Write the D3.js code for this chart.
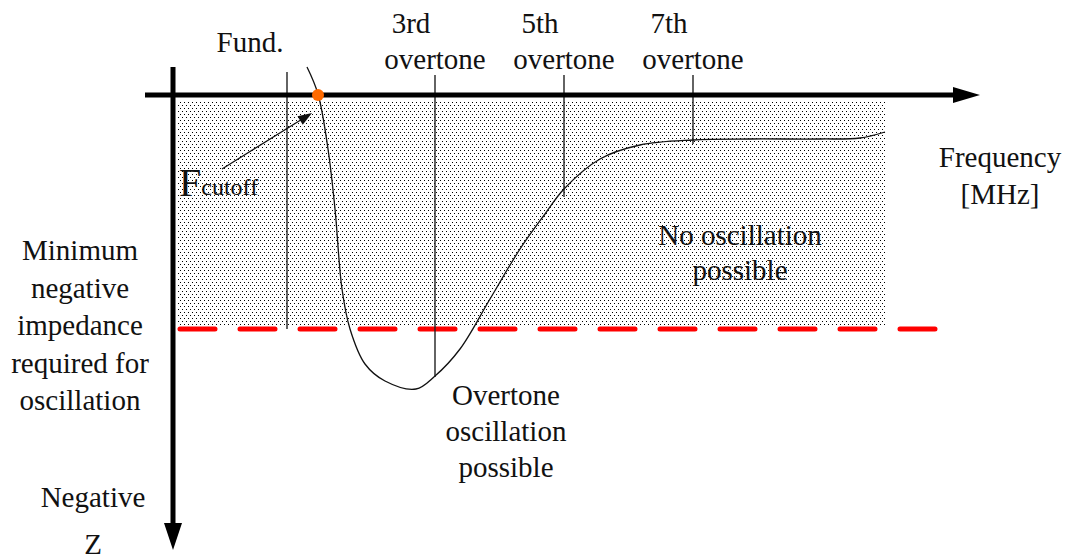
<!DOCTYPE html>
<html>
<head>
<meta charset="utf-8">
<script src="https://cdn.jsdelivr.net/npm/d3@7"></script>
<style>
  body { margin: 0; background: #fff; }
  text { font-family: "Liberation Serif", "Times New Roman", Tinos, Times, "DejaVu Serif", "Noto Serif", serif; fill: #111; }
</style>
</head>
<body>
<div id="chart"></div>
<script>
// Data (frequency / negative Z in arbitrary units, origin at the axes crossing)
const curveFreq = [134, 145, 155, 162, 169, 177, 192, 212, 243, 262, 287, 317, 347, 372, 391, 427, 467, 520, 577, 647, 687, 712]
const curveZ    = [-28, -1, 54, 114, 194, 234, 269, 286, 294, 281, 254, 204, 154, 119, 94, 64, 50, 45, 44, 44, 43, 37]

const markerNames = ['Fund.', '3rd', '5th', '7th']
const markerFreq  = [114, 262, 391, 520]
const markerZ     = [234, 282, 102, 49]

const thresholdZ = 234
const cutoffFreq = 145
const cutoffZ = 0

function draw() {
  let dimensions = {
    width: 1067,
    height: 560,
  }

  const svg = d3.select('#chart')
    .append('svg')
    .attr('width', dimensions.width)
    .attr('height', dimensions.height)

  // Scales
  const xScale = d3.scaleLinear()
    .domain([0, 800])
    .range([173, 973])

  const yScale = d3.scaleLinear()
    .domain([0, 450])
    .range([95, 545])

  // dotted texture
  const pat = svg.append('defs').append('pattern')
    .attr('id', 'dots')
    .attr('patternUnits', 'userSpaceOnUse')
    .attr('width', 4)
    .attr('height', 6)
  pat.append('rect').attr('x', 0).attr('y', 0).attr('width', 1).attr('height', 1).attr('fill', '#000')
  pat.append('rect').attr('x', 2).attr('y', 3).attr('width', 1).attr('height', 1).attr('fill', '#000')

  svg.append('rect')
    .attr('x', xScale(5))
    .attr('y', yScale(5))
    .attr('width', xScale(curveFreq[curveFreq.length - 1]) - xScale(5))
    .attr('height', yScale(thresholdZ - 3) - yScale(5))
    .attr('fill', 'url(#dots)')

  // threshold
  svg.append('line')
    .attr('x1', xScale(5) + 2)
    .attr('x2', xScale(765) - 2)
    .attr('y1', yScale(thresholdZ))
    .attr('y2', yScale(thresholdZ))
    .attr('stroke', '#ff0000')
    .attr('stroke-width', 5)
    .attr('stroke-linecap', 'round')
    .attr('stroke-dasharray', '35 25')

  // marker lines
  markerFreq.forEach((f, i) => {
    svg.append('line')
      .attr('x1', xScale(f)).attr('x2', xScale(f))
      .attr('y1', i === 0 ? 72 : 75)
      .attr('y2', yScale(markerZ[i]))
      .attr('stroke', '#222')
      .attr('stroke-width', 1.4)
  })

  // curve
  const lineGenerator = d3.line()
    .x(d => xScale(d[0]))
    .y(d => yScale(d[1]))
    .curve(d3.curveCatmullRom.alpha(0.5))

  svg.append('path')
    .datum(d3.zip(curveFreq, curveZ))
    .attr('d', d => lineGenerator(d))
    .attr('fill', 'none')
    .attr('stroke', '#111')
    .attr('stroke-width', 1.3)

  // axes with arrow heads
  const x0 = xScale(0), y0 = yScale(0)
  svg.append('line')
    .attr('x1', 145).attr('x2', 956)
    .attr('y1', y0).attr('y2', y0)
    .attr('stroke', '#000').attr('stroke-width', 5)
  svg.append('path')
    .attr('d', `M953,${y0 - 8}L980,${y0}L953,${y0 + 8}Z`)
    .attr('fill', '#000')

  svg.append('line')
    .attr('x1', x0).attr('x2', x0)
    .attr('y1', 67).attr('y2', 526)
    .attr('stroke', '#000').attr('stroke-width', 5)
  svg.append('path')
    .attr('d', `M${x0 - 9},523L${x0},550L${x0 + 9},523Z`)
    .attr('fill', '#000')

  // cutoff point + arrow
  const cx = xScale(cutoffFreq), cy = yScale(cutoffZ)
  const ax = 222, ay = 169
  const tx = cx - 6, ty = cy + 18
  const ang = Math.atan2(ty - ay, tx - ax)
  svg.append('line')
    .attr('x1', ax).attr('y1', ay)
    .attr('x2', tx - 10 * Math.cos(ang)).attr('y2', ty - 10 * Math.sin(ang))
    .attr('stroke', '#111').attr('stroke-width', 1.3)
  const hx = tx - 14 * Math.cos(ang), hy = ty - 14 * Math.sin(ang)
  const px = -Math.sin(ang) * 5, py = Math.cos(ang) * 5
  svg.append('path')
    .attr('d', `M${tx},${ty}L${hx + px},${hy + py}L${hx - px},${hy - py}Z`)
    .attr('fill', '#111')

  svg.append('circle')
    .attr('cx', cx).attr('cy', cy)
    .attr('r', 6)
    .attr('fill', '#ff6a00')

  // labels
  const label = (lines, x, y, size = 29, lh = 37) => {
    const t = svg.append('text')
      .attr('text-anchor', 'middle')
      .attr('font-size', size)
    lines.forEach((s, i) => {
      t.append('tspan').attr('x', x).attr('y', y + i * lh).text(s)
    })
  }

  label([markerNames[0]], 250, 52)
  markerNames.slice(1).forEach((n, i) => {
    const mx = xScale(markerFreq[i + 1])
    label([n], mx - 24, 33)
    label(['overtone'], mx, 69)
  })

  const fc = svg.append('text').attr('x', 179).attr('y', 196)
  fc.append('tspan').attr('font-size', 40).text('F')
  fc.append('tspan').attr('font-size', 24).attr('dy', -1).text('cutoff')

  label(['Frequency', '[MHz]'], 1000, 167)
  label(['No oscillation', 'possible'], 740, 245, 29, 35)
  label(['Overtone', 'oscillation', 'possible'], 506, 405, 29, 36)
  label(['Minimum', 'negative', 'impedance', 'required for', 'oscillation'], 80, 260, 29, 37.5)
  label(['Negative', 'Z'], 93, 507, 29, 47)
}

draw()
</script>
</body>
</html>
